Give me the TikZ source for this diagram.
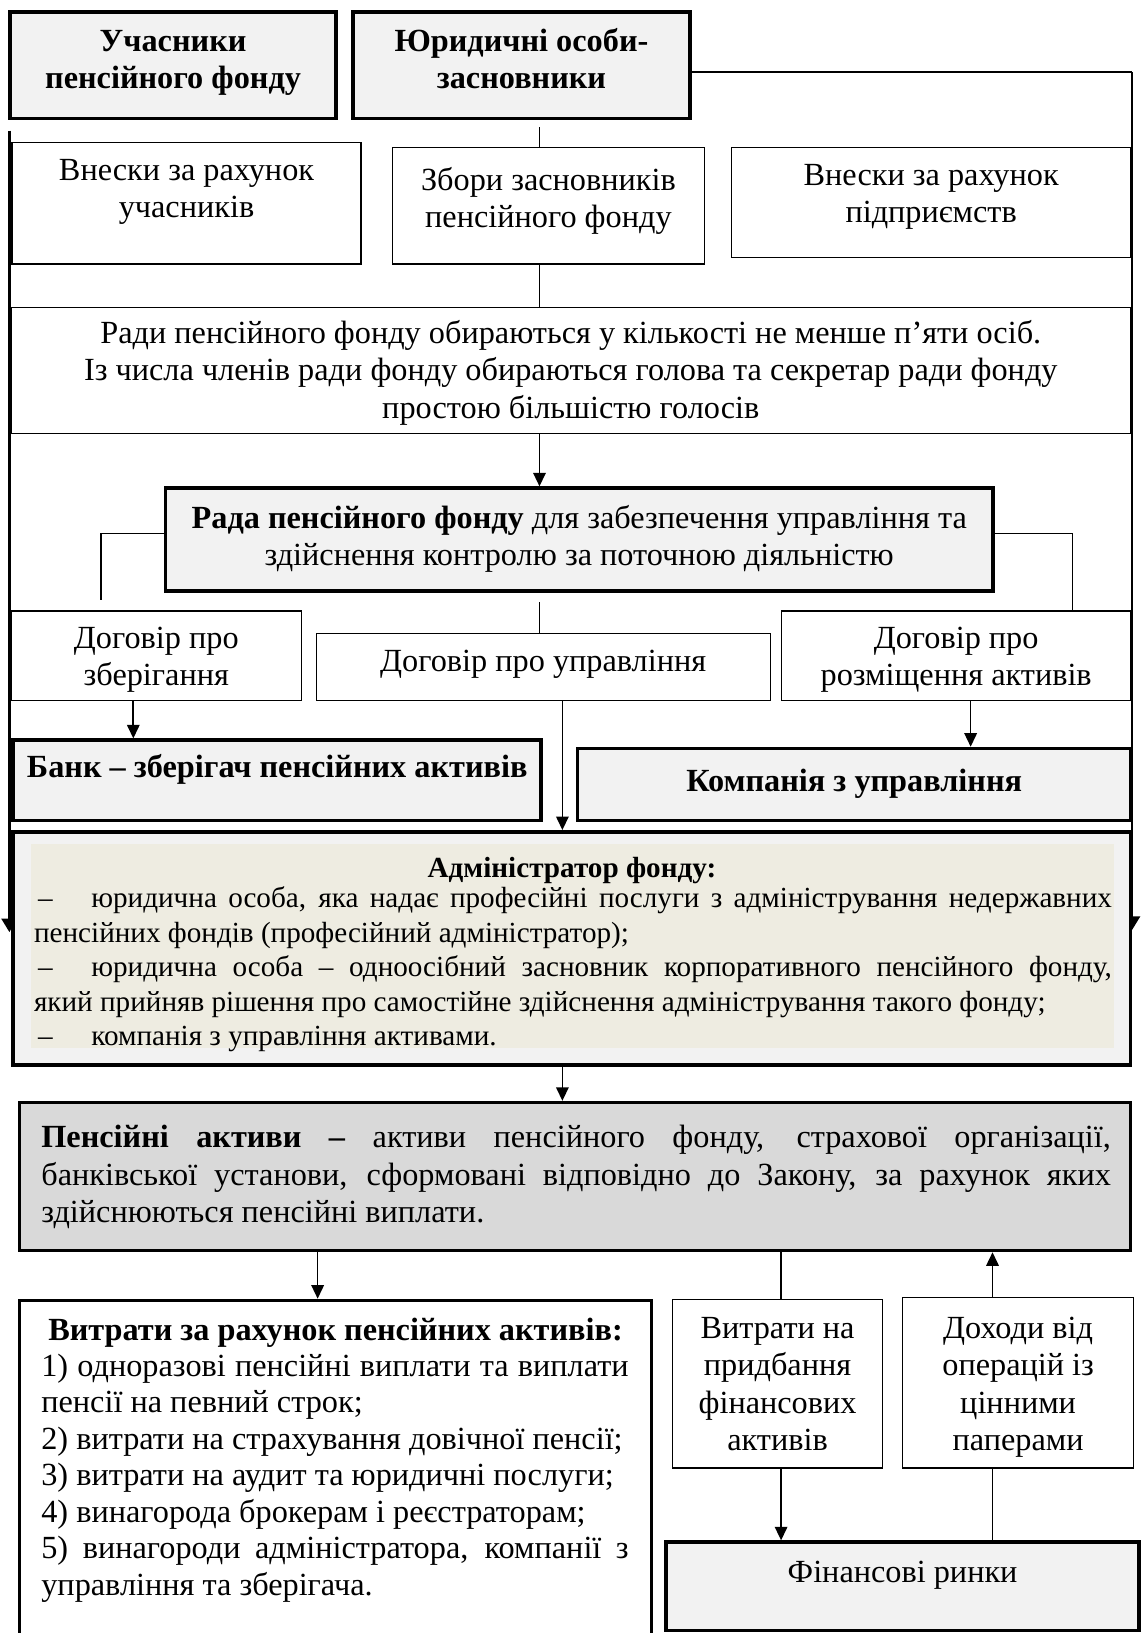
\documentclass[tikz,border=0pt]{standalone}
\usepackage{fontspec}
\setmainfont{Liberation Serif}
\usetikzlibrary{arrows.meta,calc}
\pgfdeclarelayer{bg}
\pgfsetlayers{bg,main}
\definecolor{lg}{HTML}{F2F2F2}
\definecolor{beige}{HTML}{EEECE1}
\definecolor{mg}{HTML}{D9D9D9}
\hyphenpenalty=10000
\exhyphenpenalty=10000
\newcommand\fr{\fontsize{31}{36}\selectfont}
\newcommand\bx[4]{\parbox[c][#2pt][c]{#1pt}{\fr\centering\strut #4\strut\par\vspace*{#3pt}}}
\tikzset{
  tbox/.style={draw, line width=1.2pt, fill=white, inner sep=0pt, anchor=north west},
  kbox/.style={draw, line width=3.4pt, fill=lg, inner sep=0pt, anchor=north west},
  conn/.style={line width=1.3pt},
  arr/.style={line width=1.6pt, -{Triangle[length=13pt,width=12pt]}},
  side/.style={line width=2.6pt, -{Triangle[length=13pt,width=15pt]}},
}
\begin{document}
\begin{tikzpicture}[x=1pt,y=-1pt]
\useasboundingbox (0,0) rectangle (1097,1568);

\node[kbox] (uch) at (8,10) {\bx{313}{102}{5}{\textbf{Учасники}\\\textbf{пенсійного фонду}}};
\node[kbox] (yur) at (337,10) {\bx{324}{102}{5}{\textbf{Юридичні особи-}\\\textbf{засновники}}};
\node[tbox] (vu) at (11,136) {\bx{335}{117}{22}{Внески за рахунок\\учасників}};
\node[tbox] (zb) at (376,141) {\bx{300}{112}{8}{Збори засновників\\пенсійного фонду}};
\node[tbox] (vp) at (702,141) {\bx{383}{106}{12}{Внески за рахунок\\підприємств}};
\node[tbox] (rady) at (10,295) {\bx{1075}{121}{-5}{Ради пенсійного фонду обираються у кількості не менше п’яти осіб.\\Із числа членів ради фонду обираються голова та секретар ради фонду\\простою більшістю голосів}};
\node[kbox] (rada) at (157,467) {\bx{795}{99}{0}{\textbf{Рада пенсійного фонду} для забезпечення управління та\\здійснення контролю за поточною діяльністю}};
\node[tbox] (dz) at (10,586) {\bx{279}{86}{-7}{Договір про\\зберігання}};
\node[tbox] (du) at (303,608) {\bx{436}{64}{6}{Договір про управління}};
\node[tbox] (dr) at (750,586) {\bx{335}{86}{-7}{Договір про\\розміщення активів}};
\node[kbox] (bank) at (11,709) {\bx{507}{77}{19}{\textbf{Банк – зберігач пенсійних активів}}};
\node[kbox] (komp) at (553,717) {\bx{531}{69}{0}{\textbf{Компанія з управління}}};

\node[kbox, path picture={\fill[beige] ([shift={(17,12)}]path picture bounding box.north west) rectangle ([shift={(-16,-16)}]path picture bounding box.south east);}] (adm) at (11,797) {\parbox[c][224pt][t]{1073pt}{\fontsize{28}{33}\selectfont\vspace*{21pt}%
{\centering\bfseries\strut Адміністратор фонду:\par}%
\vspace{-4pt}%
\noindent\hspace*{20pt}\makebox[1035pt][s]{\makebox[55pt][l]{\hspace{4pt}–}юридична особа, яка надає професійні послуги з адміністрування недержавних}\par
\noindent\hspace*{20pt}\makebox[1035pt][l]{пенсійних фондів (професійний адміністратор);}\par
\noindent\hspace*{20pt}\makebox[1035pt][s]{\makebox[55pt][l]{\hspace{4pt}–}юридична особа – одноосібний засновник корпоративного пенсійного фонду,}\par
\noindent\hspace*{20pt}\makebox[1035pt][l]{який прийняв рішення про самостійне здійснення адміністрування такого фонду;}\par
\noindent\hspace*{20pt}\makebox[1035pt][l]{\makebox[55pt][l]{\hspace{4pt}–}компанія з управління активами.}\par}};

\node[kbox, fill=mg] (pa) at (17,1057) {\parbox[c][142pt][t]{1067pt}{\fr\vspace*{18pt}%
\noindent\hspace*{21pt}\makebox[1027pt][s]{\strut\textbf{Пенсійні активи –} активи пенсійного фонду, страхової організації,}\par
\noindent\hspace*{21pt}\makebox[1027pt][s]{банківської установи, сформовані відповідно до Закону, за рахунок яких}\par
\noindent\hspace*{21pt}\makebox[1027pt][l]{здійснюються пенсійні виплати.}\par}};

\node[kbox, fill=white] (vyt) at (17,1247) {\parbox[c][328pt][t]{607pt}{\fontsize{31}{35}\selectfont\vspace*{13.5pt}%
{\centering\bfseries\strut Витрати за рахунок пенсійних активів:\par}%
\noindent\hspace*{21pt}\makebox[564pt][s]{1) одноразові пенсійні виплати та виплати}\par
\noindent\hspace*{21pt}\makebox[564pt][l]{пенсії на певний строк;}\par
\noindent\hspace*{21pt}\makebox[564pt][l]{2) витрати на страхування довічної пенсії;}\par
\noindent\hspace*{21pt}\makebox[564pt][l]{3) витрати на аудит та юридичні послуги;}\par
\noindent\hspace*{21pt}\makebox[564pt][l]{4) винагорода брокерам і реєстраторам;}\par
\noindent\hspace*{21pt}\makebox[564pt][s]{5) винагороди адміністратора, компанії з}\par
\noindent\hspace*{21pt}\makebox[564pt][l]{управління та зберігача.}\par}};

\node[tbox] (vpr) at (645,1247) {\bx{202}{162}{-6}{Витрати на\\придбання\\фінансових\\активів}};
\node[tbox] (doh) at (866,1245) {\bx{222}{164}{-8}{Доходи від\\операцій із\\цінними\\паперами}};
\node[kbox] (fin) at (638,1479) {\bx{454}{85}{21}{Фінансові ринки}};

% side lines behind the boxes
\coordinate (rt) at (1087,69);
\coordinate (rb) at (1087,893);
\begin{pgfonlayer}{bg}
\draw[side] ($(uch.south west)+(1,10)$) -- ($(adm.north west)+(-2,98)$);
\draw[line width=2pt] (yur.east |- rt) -- (rt);
\draw[side] (rt) -- (rb);
\end{pgfonlayer}

% central column
\coordinate (cx) at (518,0);
\draw[conn] ($(cx |- yur.south)+(0,7)$) -- (cx |- zb.north);
\draw[conn] (cx |- zb.south) -- (cx |- rady.north);
\draw[arr] (cx |- rady.south) -- (cx |- rada.north);
\draw[conn] ($(cx |- rada.south)+(0,9)$) -- (cx |- du.north);

% from the board to the contracts
\coordinate (rl) at (97,576);
\coordinate (rr) at (1030,0);
\draw[conn] ($(rada.west)+(0,-6)$) -| (rl);
\draw[conn] ($(rada.east)+(0,-6)$) -| (rr |- dr.north);

% contracts to parties
\draw[arr] (dz.south -| 128,0) -- (bank.north -| 128,0);
\draw[arr] (du.south -| 540,0) -- (adm.north -| 540,0);
\draw[arr] (dr.south -| 932,0) -- (komp.north -| 932,0);
\draw[arr] (adm.south -| 540,0) -- (pa.north -| 540,0);
\draw[arr] (pa.south -| 305,0) -- (vyt.north -| 305,0);

% financial markets loop
\draw[conn] (pa.south -| 750,0) -- (vpr.north -| 750,0);
\draw[arr] (vpr.south -| 750,0) -- (fin.north -| 750,0);
\draw[conn] (fin.north -| 953,0) -- (doh.south -| 953,0);
\draw[arr] (doh.north -| 953,0) -- (pa.south -| 953,0);
\end{tikzpicture}
\end{document}
